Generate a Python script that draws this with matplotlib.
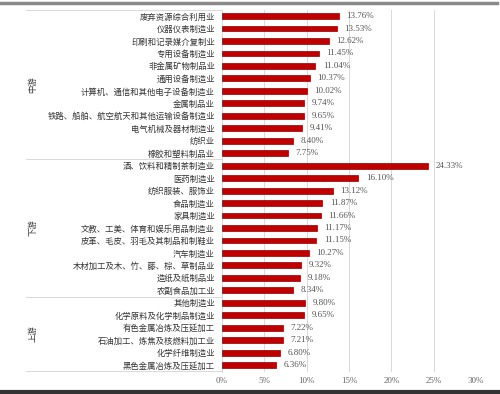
import matplotlib
matplotlib.use('Agg')
import matplotlib.pyplot as plt
from matplotlib.lines import Line2D
import numpy as np

plt.rcParams['font.family'] = ['Noto Sans CJK SC', 'DejaVu Sans']

# data, top to bottom
mid_names = ['废弃资源综合利用业', '仪器仪表制造业', '印刷和记录媒介复制业', '专用设备制造业',
             '非金属矿物制品业', '通用设备制造业', '计算机、通信和其他电子设备制造业', '金属制品业',
             '铁路、船舶、航空航天和其他运输设备制造业', '电气机械及器材制造业', '纺织业', '橡胶和塑料制品业']
mid_vals = [13.76, 13.53, 12.62, 11.45, 11.04, 10.37, 10.02, 9.74, 9.65, 9.41, 8.40, 7.75]

down_names = ['酒、饮料和精制茶制造业', '医药制造业', '纺织服装、服饰业', '食品制造业', '家具制造业',
              '文教、工美、体育和娱乐用品制造业', '皮革、毛皮、羽毛及其制品和制鞋业', '汽车制造业',
              '木材加工及木、竹、藤、棕、草制品业', '造纸及纸制品业', '农副食品加工业']
down_vals = [24.33, 16.10, 13.12, 11.87, 11.66, 11.17, 11.15, 10.27, 9.32, 9.18, 8.34]

up_names = ['其他制造业', '化学原料及化学制品制造业', '有色金属冶炼及压延加工',
            '石油加工、炼焦及核燃料加工业', '化学纤维制造业', '黑色金属冶炼及压延加工']
up_vals = [9.80, 9.65, 7.22, 7.21, 6.80, 6.36]

groups = ['中游', '下游', '上游']
x_ticks = [0, 5, 10, 15, 20, 25, 30]

names = mid_names + down_names + up_names
vals = mid_vals + down_vals + up_vals
sizes = [len(mid_names), len(down_names), len(up_names)]
y = np.arange(len(names))

fig = plt.figure(figsize=(5, 3.94), dpi=100)
ax = fig.add_axes([0.444, 0.056, 0.508, 0.919])

ax.barh(y, vals, height=0.47, color='#c00000', edgecolor='#8b0000', linewidth=0.5, zorder=3)
for yi, v in zip(y, vals):
    ax.text(v + 0.9, yi, f'{v:.2f}%', va='center', ha='left', fontsize=6.5,
            family='Liberation Serif', color='#555555')

ax.set_xlim(0, 30)
ax.set_ylim(len(names) - 0.45, -0.5)
ax.set_xticks(x_ticks)
ax.set_xticklabels([f'{t}%' for t in x_ticks], family='Liberation Serif', fontsize=6.5, color='#666666')
ax.set_yticks(y)
ax.set_yticklabels(names, fontsize=6, color='#333333')
ax.tick_params(axis='both', length=0)
ax.tick_params(axis='y', pad=5)
ax.tick_params(axis='x', pad=4)
ax.grid(axis='x', color='#d9d9d9', linewidth=0.7, zorder=0)
for s in ['top', 'right', 'bottom']:
    ax.spines[s].set_visible(False)
ax.spines['left'].set_color('#d9d9d9')
ax.spines['left'].set_linewidth(0.7)

# group separators and group labels on the left
x0 = -0.77  # axes fraction of left edge of the separator lines
bounds = np.concatenate([[0], np.cumsum(sizes)])
for b in bounds:
    ax.plot([x0, 0], [b - 0.5, b - 0.5], color='#d9d9d9', linewidth=0.7,
            transform=ax.get_yaxis_transform(), clip_on=False)
for g, a, b in zip(groups, bounds[:-1], bounds[1:]):
    ax.text(-0.745, (a + b - 1) / 2, g, rotation=90, va='center', ha='center',
            fontsize=6, color='#333333', transform=ax.get_yaxis_transform())

# screenshot borders
fig.add_artist(Line2D([0, 0.994], [1 - 3 / 394, 1 - 3 / 394], color='#8a8a8a', linewidth=2.5))
fig.add_artist(Line2D([0, 1], [2 / 394, 2 / 394], color='#333333', linewidth=3))

fig.savefig('out.png', dpi=100)
